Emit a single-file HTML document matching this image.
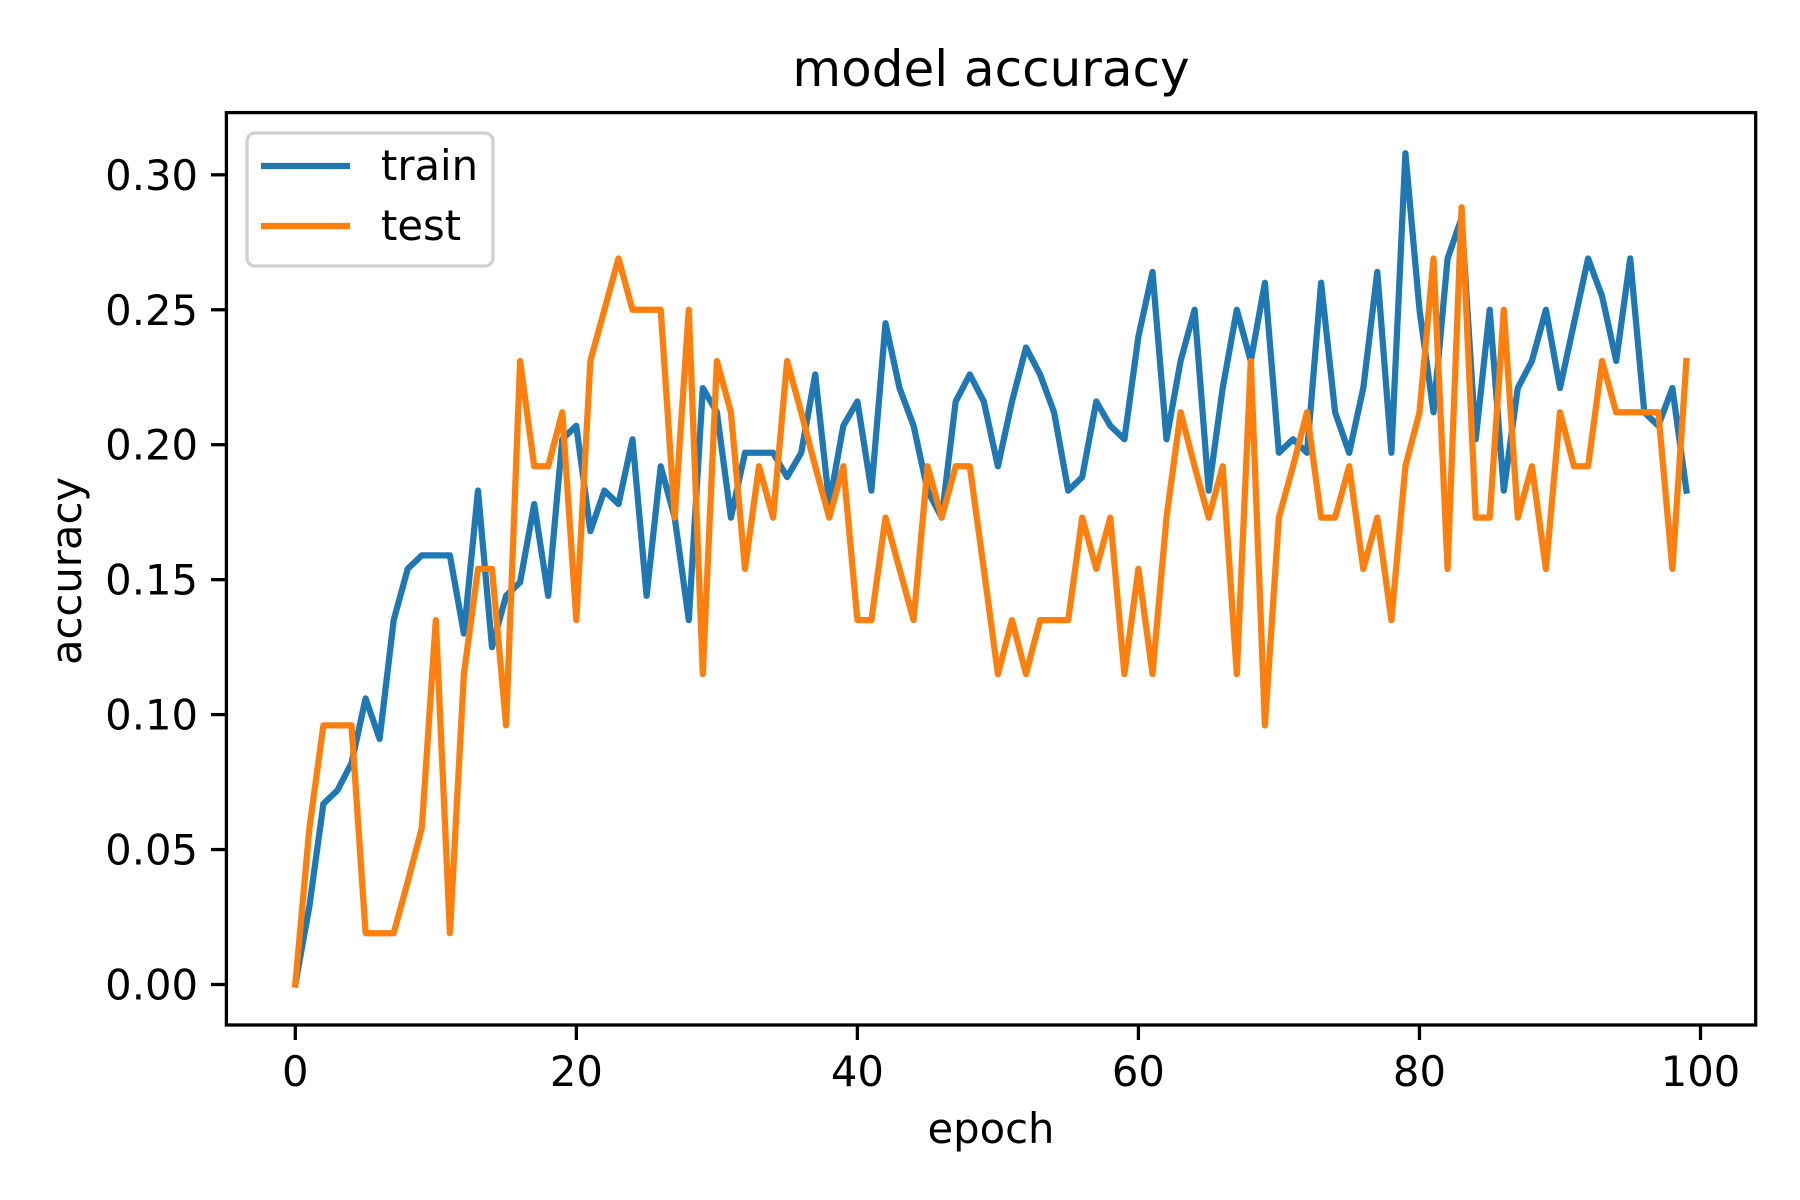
<!DOCTYPE html>
<html><head><meta charset="utf-8"><style>
html,body{margin:0;padding:0;background:#fff;}
svg{display:block;font-family:"DejaVu Sans","Liberation Sans",sans-serif;}
</style></head><body>
<svg id="chart" width="1800" height="1200" viewBox="0 0 1800 1200" xmlns="http://www.w3.org/2000/svg">
<rect width="1800" height="1200" fill="#fff"/>
<text x="991" y="86" text-anchor="middle" font-size="50">model accuracy</text>
<g id="plot"></g>
<rect x="226.4" y="112.6" width="1529.3" height="912.4" fill="none" stroke="#000" stroke-width="3.3"/>
<text x="991" y="1143" text-anchor="middle" font-size="41.7">epoch</text>
<text transform="translate(81,571) rotate(-90)" text-anchor="middle" font-size="41.7">accuracy</text>
<g>
<rect x="247" y="133" width="246" height="133" rx="8" fill="#fff" fill-opacity="0.8" stroke="#d0d0d0" stroke-width="3.3"/>
<line x1="261" y1="166" x2="350" y2="166" stroke="#1f77b4" stroke-width="6.25"/>
<text x="381" y="180" font-size="41.7">train</text>
<line x1="261" y1="226" x2="350" y2="226" stroke="#ff7f0e" stroke-width="6.25"/>
<text x="381" y="240" font-size="41.7">test</text>
</g>
</svg>
<script>
const trainAcc=[0,0.029,0.067,0.072,0.082,0.106,0.091,0.135,0.154,0.159,0.159,0.159,0.130,0.183,0.125,0.144,0.149,0.178,0.144,0.202,0.207,0.168,0.183,0.178,0.202,0.144,0.192,0.173,0.135,0.221,0.212,0.173,0.197,0.197,0.197,0.188,0.197,0.226,0.178,0.207,0.216,0.183,0.245,0.221,0.207,0.183,0.173,0.216,0.226,0.216,0.192,0.216,0.236,0.226,0.212,0.183,0.188,0.216,0.207,0.202,0.240,0.264,0.202,0.231,0.250,0.183,0.221,0.250,0.231,0.260,0.197,0.202,0.197,0.260,0.212,0.197,0.221,0.264,0.197,0.308,0.250,0.212,0.269,0.284,0.202,0.250,0.183,0.221,0.231,0.250,0.221,0.245,0.269,0.255,0.231,0.269,0.212,0.207,0.221,0.183];
const testAcc=[0,0.058,0.096,0.096,0.096,0.019,0.019,0.019,0.038,0.058,0.135,0.019,0.115,0.154,0.154,0.096,0.231,0.192,0.192,0.212,0.135,0.231,0.250,0.269,0.250,0.250,0.250,0.173,0.250,0.115,0.231,0.212,0.154,0.192,0.173,0.231,0.212,0.192,0.173,0.192,0.135,0.135,0.173,0.154,0.135,0.192,0.173,0.192,0.192,0.154,0.115,0.135,0.115,0.135,0.135,0.135,0.173,0.154,0.173,0.115,0.154,0.115,0.173,0.212,0.192,0.173,0.192,0.115,0.231,0.096,0.173,0.192,0.212,0.173,0.173,0.192,0.154,0.173,0.135,0.192,0.212,0.269,0.154,0.288,0.173,0.173,0.250,0.173,0.192,0.154,0.212,0.192,0.192,0.231,0.212,0.212,0.212,0.212,0.154,0.231];
const xTicks=[0,20,40,60,80,100];
const yTicks=[0,0.05,0.10,0.15,0.20,0.25,0.30];
const yTickLabels=["0.00","0.05","0.10","0.15","0.20","0.25","0.30"];

const NS="http://www.w3.org/2000/svg";
const xs=v=>295.3+v*14.052;
const ys=v=>984.5-v*2699;
const g=document.getElementById('plot');
function mk(t,a){const e=document.createElementNS(NS,t);for(const k in a)e.setAttribute(k,a[k]);g.appendChild(e);return e;}
xTicks.forEach(v=>{
  const l=mk('line',{x1:xs(v),x2:xs(v),y1:1025,y2:1040,stroke:'#000','stroke-width':3.3});
  
  
  const t=mk('text',{x:xs(v),y:1086,'text-anchor':'middle','font-size':41.7});
  
  
  t.textContent=String(v);
});
yTicks.forEach((v,i)=>{
  const l=mk('line',{x1:211,x2:226,y1:ys(v),y2:ys(v),stroke:'#000','stroke-width':3.3});
  
  
  const t=mk('text',{x:198,y:ys(v)+15,'text-anchor':'end','font-size':41.7});
  
  
  t.textContent=yTickLabels[i];
});
function series(arr,color,name){
  const d=arr.map((v,i)=>(i?'L':'M')+xs(i).toFixed(1)+' '+ys(v).toFixed(1)).join('');
  const p=mk('path',{d:d,fill:'none',stroke:color,'stroke-width':6.25,'stroke-linejoin':'round','stroke-linecap':'square'});
  
  
}
series(trainAcc,'#1f77b4','train-line');
series(testAcc,'#ff7f0e','test-line');
</script>
</body></html>
